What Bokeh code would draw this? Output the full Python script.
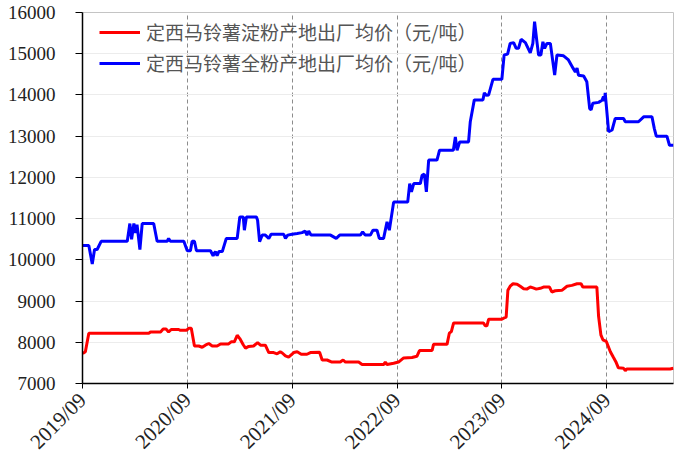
import math
import pandas as pd
from bokeh.plotting import figure
from bokeh.models import (FixedTicker, DatetimeTickFormatter, Legend, LegendItem,
                          Range1d, ColumnDataSource)
from bokeh.embed import file_html
from bokeh.resources import INLINE

# ---------------- data ----------------
series_starch_name = "定西马铃薯淀粉产地出厂均价（元/吨）"
series_flour_name = "定西马铃薯全粉产地出厂均价（元/吨）"

starch_dates = [
    "2019-09-02", "2019-09-11", "2019-09-23", "2020-04-19", "2020-04-25", "2020-05-30",
    "2020-06-08", "2020-06-18", "2020-06-27", "2020-07-06", "2020-08-01", "2020-08-07",
    "2020-08-28", "2020-09-05", "2020-09-14", "2020-09-25", "2020-10-10", "2020-10-22",
    "2020-11-02", "2020-11-14", "2020-11-26", "2020-12-13", "2020-12-25", "2021-01-22",
    "2021-01-31", "2021-02-11", "2021-02-21", "2021-03-02", "2021-03-14", "2021-03-22",
    "2021-04-02", "2021-04-19", "2021-05-03", "2021-05-13", "2021-05-30", "2021-06-11",
    "2021-06-28", "2021-07-10", "2021-07-21", "2021-07-28", "2021-08-08", "2021-08-19",
    "2021-09-06", "2021-09-18", "2021-10-02", "2021-10-22", "2021-11-03", "2021-12-05",
    "2021-12-14", "2021-12-31", "2022-01-17", "2022-02-15", "2022-02-25", "2022-03-05",
    "2022-04-20", "2022-05-02", "2022-07-16", "2022-07-22", "2022-07-28", "2022-08-20",
    "2022-09-06", "2022-09-24", "2022-10-23", "2022-11-09", "2022-11-18", "2023-01-01",
    "2023-01-06", "2023-02-22", "2023-03-02", "2023-03-09", "2023-03-17", "2023-06-29",
    "2023-07-05", "2023-07-11", "2023-07-17", "2023-09-01", "2023-09-09", "2023-09-16",
    "2023-09-22", "2023-09-30", "2023-10-10", "2023-10-24", "2023-11-04", "2023-11-16",
    "2023-11-27", "2023-12-09", "2023-12-19", "2023-12-30", "2024-01-13", "2024-01-24",
    "2024-02-14", "2024-02-22", "2024-03-05", "2024-03-28", "2024-04-15", "2024-05-02",
    "2024-05-20", "2024-06-03", "2024-06-09", "2024-07-28", "2024-08-03", "2024-08-11",
    "2024-08-18", "2024-08-30", "2024-09-13", "2024-09-24", "2024-10-02", "2024-10-11",
    "2024-10-29", "2024-11-04", "2024-11-09", "2025-04-09", "2025-04-21",
]
starch_values = [
    7730, 7770, 8220, 8220, 8250, 8250,
    8320, 8320, 8250, 8310, 8310, 8290,
    8290, 8340, 8340, 7910, 7910, 7880,
    7930, 7970, 7910, 7910, 7960, 7960,
    8010, 8010, 8170, 8090, 7940, 7860,
    7900, 7910, 7990, 7930, 7930, 7750,
    7750, 7720, 7770, 7740, 7670, 7640,
    7750, 7770, 7710, 7710, 7750, 7760,
    7570, 7570, 7520, 7520, 7570, 7520,
    7520, 7460, 7460, 7520, 7460, 7490,
    7520, 7620, 7630, 7660, 7800, 7800,
    7950, 7950, 8220, 8260, 8470, 8470,
    8400, 8400, 8560, 8560, 8590, 8610,
    9260, 9360, 9420, 9410, 9360, 9300,
    9290, 9340, 9320, 9290, 9310, 9340,
    9340, 9220, 9250, 9260, 9360, 9380,
    9420, 9420, 9340, 9340, 8630, 8180,
    8060, 8020, 7770, 7630, 7530, 7380,
    7370, 7310, 7350, 7350, 7370,
]

flour_dates = [
    "2019-09-02", "2019-09-23", "2019-10-05", "2019-10-13", "2019-10-22", "2019-11-05",
    "2020-02-04", "2020-02-13", "2020-02-19", "2020-02-27", "2020-03-04", "2020-03-09",
    "2020-03-19", "2020-03-27", "2020-05-06", "2020-05-18", "2020-06-22", "2020-06-27",
    "2020-07-03", "2020-08-19", "2020-08-31", "2020-09-11", "2020-09-17", "2020-09-25",
    "2020-10-02", "2020-11-20", "2020-11-29", "2020-12-07", "2020-12-13", "2020-12-19",
    "2020-12-31", "2021-01-14", "2021-02-21", "2021-03-02", "2021-03-14", "2021-03-18",
    "2021-03-25", "2021-04-29", "2021-05-03", "2021-05-10", "2021-05-19", "2021-05-30",
    "2021-06-11", "2021-06-19", "2021-08-02", "2021-08-08", "2021-08-16", "2021-08-31",
    "2021-09-18", "2021-10-05", "2021-10-16", "2021-10-22", "2021-10-28", "2021-11-05",
    "2022-01-12", "2022-02-01", "2022-02-13", "2022-04-26", "2022-05-04", "2022-05-13",
    "2022-05-31", "2022-06-09", "2022-06-23", "2022-07-01", "2022-07-16", "2022-07-28",
    "2022-08-05", "2022-08-20", "2022-10-08", "2022-10-15", "2022-10-21", "2022-10-29",
    "2022-11-21", "2022-11-27", "2022-12-05", "2022-12-12", "2022-12-20", "2023-01-18",
    "2023-01-27", "2023-03-16", "2023-03-23", "2023-03-29", "2023-04-07", "2023-05-08",
    "2023-05-14", "2023-05-28", "2023-06-27", "2023-07-02", "2023-07-09", "2023-07-17",
    "2023-08-01", "2023-09-01", "2023-09-09", "2023-09-21", "2023-09-30", "2023-10-12",
    "2023-10-21", "2023-10-29", "2023-11-07", "2023-11-22", "2023-12-09", "2023-12-18",
    "2023-12-24", "2024-01-01", "2024-01-07", "2024-01-15", "2024-01-22", "2024-01-28",
    "2024-02-05", "2024-02-17", "2024-03-03", "2024-03-11", "2024-04-03", "2024-04-20",
    "2024-05-06", "2024-05-14", "2024-05-20", "2024-05-25", "2024-06-12", "2024-06-23",
    "2024-07-03", "2024-07-08", "2024-07-14", "2024-08-03", "2024-08-15", "2024-08-20",
    "2024-08-24", "2024-08-26", "2024-09-07", "2024-09-19", "2024-09-30", "2024-10-29",
    "2024-11-04", "2024-12-20", "2025-01-07", "2025-02-05", "2025-02-13", "2025-02-20",
    "2025-03-29", "2025-04-07", "2025-04-21",
]
flour_values = [
    10350, 10350, 9900, 10250, 10250, 10450,
    10450, 10880, 10500, 10880, 10650, 10850,
    10250, 10880, 10880, 10450, 10450, 10520,
    10450, 10450, 10220, 10220, 10450, 10450,
    10220, 10220, 10100, 10200, 10100, 10200,
    10200, 10520, 10520, 11040, 11040, 10720,
    11040, 11040, 10960, 10440, 10600, 10600,
    10520, 10620, 10620, 10520, 10600, 10620,
    10640, 10660, 10700, 10600, 10700, 10600,
    10600, 10520, 10600, 10600, 10680, 10600,
    10600, 10720, 10720, 10520, 10520, 10920,
    10720, 11400, 11400, 11850, 11650, 11850,
    11850, 12050, 12080, 11650, 12420, 12420,
    12660, 12660, 12980, 12660, 12860, 12860,
    13350, 13880, 13880, 14050, 13990, 14000,
    14380, 14380, 14970, 14990, 15250, 15270,
    15130, 15130, 15350, 15270, 15020, 15250,
    15780, 15300, 14970, 14970, 15290, 15130,
    15250, 15250, 14480, 14970, 14950, 14850,
    14650, 14560, 14650, 14480, 14460, 14320,
    13670, 13640, 13800, 13820, 13870, 13960,
    13850, 14050, 13110, 13150, 13430, 13430,
    13350, 13350, 13470, 13470, 13190, 13000,
    13000, 12780, 12780,
]

x_tick_dates = ["2019-09-01", "2020-09-01", "2021-09-01", "2022-09-01",
                "2023-09-01", "2024-09-01"]
y_ticks = [7000, 8000, 9000, 10000, 11000, 12000, 13000, 14000, 15000, 16000]
x_start, x_end = "2019-09-01", "2025-04-21"

# ---------------- plot ----------------
def ms(s):
    return pd.Timestamp(s).value / 1e6

p = figure(width=684, height=465, output_backend="svg", toolbar_location=None,
           x_axis_type="datetime",
           x_range=Range1d(ms(x_start), ms(x_end)),
           y_range=Range1d(y_ticks[0], y_ticks[-1]),
           min_border_left=82, min_border_right=11, min_border_top=12,
           min_border_bottom=80)
p.background_fill_color = "white"
p.border_fill_color = "white"
p.outline_line_color = "#c4c4c4"
p.outline_line_width = 1

src_s = ColumnDataSource(dict(x=pd.to_datetime(starch_dates), y=starch_values))
src_f = ColumnDataSource(dict(x=pd.to_datetime(flour_dates), y=flour_values))
r_s = p.line("x", "y", source=src_s, line_color="#ff0000", line_width=3)
r_f = p.line("x", "y", source=src_f, line_color="#0000ff", line_width=3)

xt = FixedTicker(ticks=[ms(d) for d in x_tick_dates], minor_ticks=[])
p.xaxis.ticker = xt
fmt = "%Y/%m"
p.xaxis.formatter = DatetimeTickFormatter(
    milliseconds=fmt, seconds=fmt, minsec=fmt, minutes=fmt, hourmin=fmt, hours=fmt,
    days=fmt, months=fmt, years=fmt)
p.xaxis.major_label_orientation = math.pi / 4
p.yaxis.ticker = FixedTicker(ticks=y_ticks, minor_ticks=[])

for ax in (p.xaxis[0], p.yaxis[0]):
    ax.axis_line_color = "black"
    ax.axis_line_width = 1.5
    ax.major_tick_line_color = "black"
    ax.major_tick_line_width = 1
    ax.major_tick_in = 0
    ax.minor_tick_line_color = None
    ax.major_label_text_font = "Liberation Serif"
    ax.major_label_text_color = "#222222"
p.yaxis.major_tick_out = 7
p.yaxis.major_label_standoff = 20
p.yaxis.major_label_text_font_size = "19px"
p.xaxis.major_tick_out = 5
p.xaxis.major_label_standoff = 8
p.xaxis.major_label_text_font_size = "21px"

p.ygrid.ticker = FixedTicker(ticks=y_ticks)
p.ygrid.grid_line_color = "#ececec"
p.ygrid.grid_line_width = 1
p.xgrid.ticker = xt
p.xgrid.grid_line_color = "#8c8c8c"
p.xgrid.grid_line_dash = "4 3"
p.xgrid.grid_line_width = 1


def make_legend(label, renderer, loc):
    lg = Legend(items=[LegendItem(label=label, renderers=[renderer])],
                location=loc, orientation="vertical")
    lg.border_line_color = None
    lg.background_fill_alpha = 0
    lg.padding = 0
    lg.margin = 0
    lg.spacing = 0
    lg.glyph_width = 41
    lg.glyph_height = 20
    lg.label_height = 20
    lg.label_standoff = 6
    lg.label_text_font = "Noto Sans CJK SC"
    lg.label_text_font_size = "19px"
    lg.label_text_color = "#555555"
    return lg


p.add_layout(make_legend(series_starch_name, r_s, (17, 338)))
p.add_layout(make_legend(series_flour_name, r_f, (17, 307)))

open("out.html", "w").write(file_html(p, INLINE))
